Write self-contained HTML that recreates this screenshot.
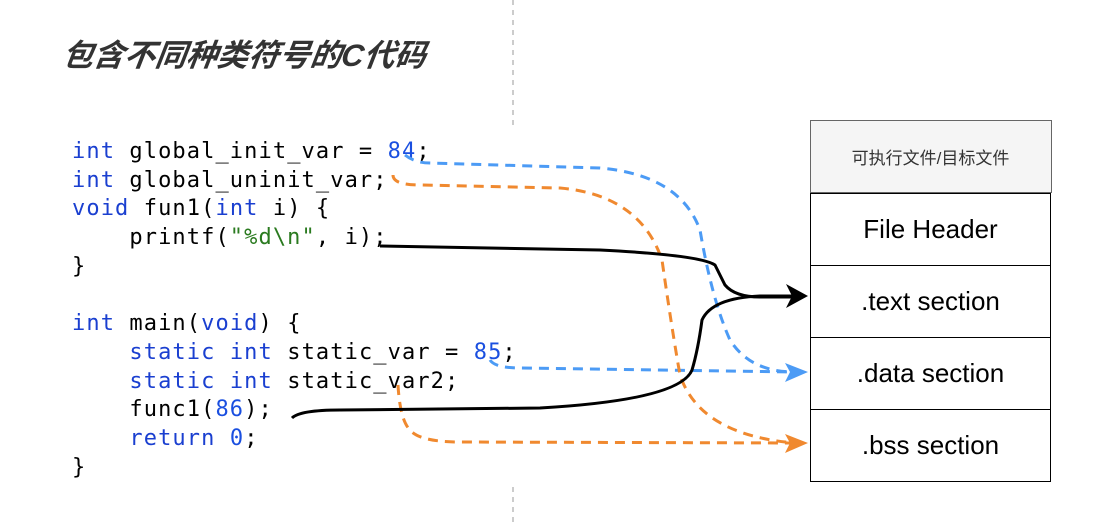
<!DOCTYPE html>
<html><head><meta charset="utf-8"><style>
html,body{margin:0;padding:0;background:#fff;width:1106px;height:526px;overflow:hidden}
.t{position:absolute;left:60px;top:38px;font:italic bold 31px/36px "Liberation Sans","Noto Sans CJK SC",sans-serif;color:#333;transform:skewX(-8deg);transform-origin:0 100%;white-space:nowrap}
pre{position:absolute;left:72px;top:138px;margin:0;font:22px/28.7px "DejaVu Sans Mono","Liberation Mono",monospace;letter-spacing:1.1px;color:#000}
.k{color:#1a3fd0}.n{color:#1a4fe0}.s{color:#2a7a1f}
.tb{position:absolute;left:810px;top:120px;width:239px;border:1.5px solid #000;border-top:none}
.r{height:71px;border-top:1.5px solid #000;display:flex;align-items:center;justify-content:center;font:26px "Liberation Sans",sans-serif;color:#000}
.h{background:#f5f5f5;border:1.5px solid #666;margin:0 -1.5px;font:17px "Liberation Sans","Noto Sans CJK SC",sans-serif;color:#333}
</style></head><body>
<svg width="1106" height="526" style="position:absolute;left:0;top:0">
<line x1="513" y1="0" x2="513" y2="130" stroke="#bbb" stroke-width="1.5" stroke-dasharray="5,5"/>
<line x1="513" y1="487" x2="513" y2="526" stroke="#bbb" stroke-width="1.5" stroke-dasharray="5,5"/>
</svg>
<div class="t">包含不同种类符号的C代码</div>
<pre><span class="k">int</span> global_init_var = <span class="n">84</span>;
<span class="k">int</span> global_uninit_var;
<span class="k">void</span> fun1(<span class="k">int</span> i) {
    printf(<span class="s">"%d\n"</span>, i);
}

<span class="k">int</span> main(<span class="k">void</span>) {
    <span class="k">static</span> <span class="k">int</span> static_var = <span class="n">85</span>;
    <span class="k">static</span> <span class="k">int</span> static_var2;
    func1(<span class="n">86</span>);
    <span class="k">return</span> <span class="n">0</span>;
}</pre>
<div class="tb">
<div class="r h">可执行文件/目标文件</div>
<div class="r">File Header</div>
<div class="r">.text section</div>
<div class="r">.data section</div>
<div class="r">.bss section</div>
</div>
<svg width="1106" height="526" style="position:absolute;left:0;top:0">
<g fill="none" stroke-width="3" stroke-dasharray="10,7">
<path d="M405,155 Q415,163 430,163 L600,168 Q680,175 700,230 Q712,300 730,340 Q750,372 795,372" stroke="#4c9bf5"/>
<path d="M490,360 Q495,368 520,368 L795,372" stroke="#4c9bf5"/>
<path d="M393,175 Q393,185 420,185 L560,188 Q640,195 662,260 Q672,330 680,375 Q700,435 795,443" stroke="#f0892f"/>
<path d="M398,385 Q400,420 410,430 Q420,442 460,442 L795,443" stroke="#f0892f"/>
</g>
<polygon points="808,372 785,363 790,372 785,382" fill="#4c9bf5"/>
<polygon points="808,443 785,434 790,443 785,453" fill="#f0892f"/>
<g fill="none" stroke="#000" stroke-width="3">
<path d="M380,246 L600,250 Q700,255 715,265 Q720,275 725,285 Q735,297 760,297 L795,297"/>
<path d="M292,418 Q300,410 340,410 L540,408 Q680,400 692,370 Q698,350 702,320 Q712,298 760,296 L795,296"/>
</g>
<polygon points="808,296 786,284 792,296 786,308" fill="#000"/>
</svg>
</body></html>
